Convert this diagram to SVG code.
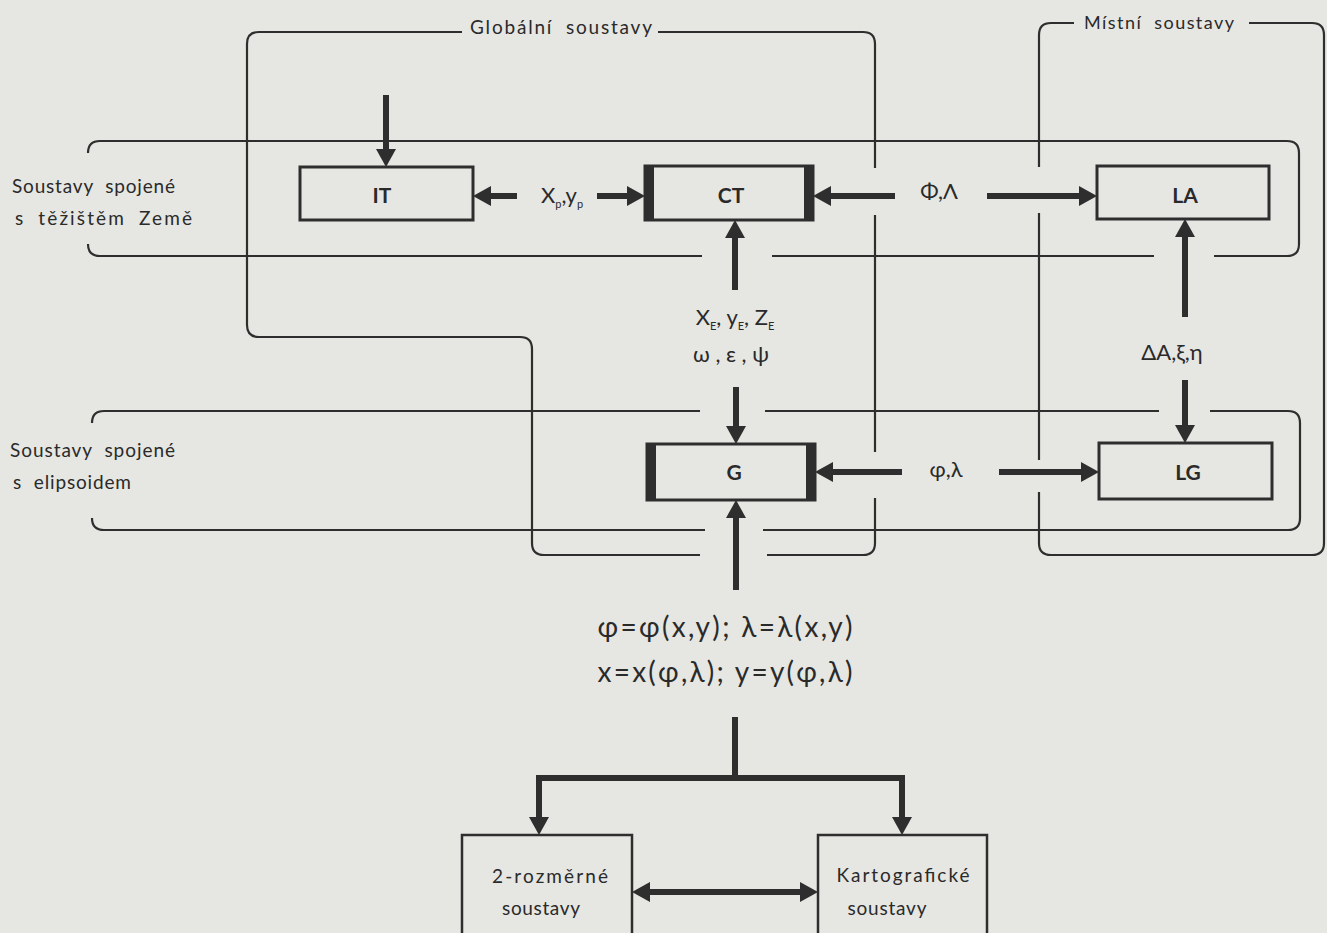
<svg xmlns="http://www.w3.org/2000/svg" width="1327" height="933" viewBox="0 0 1327 933">
<style>
.bg{fill:#e6e6e2}
.frame{fill:none;stroke:#2e2e2e;stroke-width:2.2}
.box{fill:none;stroke:#2e2e2e;stroke-width:3}
.bar{fill:#2e2e2e}
.arr{fill:none;stroke:#2e2e2e;stroke-width:6}
.t{font-family:Lato,"Open Sans","DejaVu Sans",sans-serif;fill:#2a2a2a}
.lbl{font-size:19px;word-spacing:6px}
.nd{font-size:21px;font-weight:bold;text-anchor:middle}
.mid{text-anchor:middle}
.math{font-size:22px}
.frm{font-size:28px}
.sm{font-size:19px}
</style>
<defs>
<marker id="ah" viewBox="0 0 18 20" refX="2" refY="10" markerWidth="18" markerHeight="20" markerUnits="userSpaceOnUse" orient="auto-start-reverse">
<path d="M0,0 L18,10 L0,20 z" fill="#2e2e2e"/>
</marker>
</defs>
<rect class="bg" x="0" y="0" width="1327" height="933"/>

<g id="frames">
<g id="frame-globalni">
<path class="frame" d="M462,32 L259,32 Q247,32 247,44 L247,325 Q247,337 259,337 L520,337 Q532,337 532,349 L532,543 Q532,555 544,555 L700,555 M767,555 L863,555 Q875,555 875,543 L875,498 M875,452 L875,215 M875,168 L875,44 Q875,32 863,32 L658,32"/>
<text class="t lbl" x="470" y="34" textLength="182" lengthAdjust="spacing">Globální soustavy</text>
</g>
<g id="frame-mistni">
<path class="frame" d="M1074,23 L1051,23 Q1039,23 1039,35 L1039,167 M1039,213 L1039,460 M1039,492 L1039,543 Q1039,555 1051,555 L1312,555 Q1324,555 1324,543 L1324,35 Q1324,23 1312,23 L1249,23"/>
<text class="t lbl" x="1084" y="29" textLength="150" lengthAdjust="spacing" style="font-size:18px">Místní soustavy</text>
</g>
<g id="band-zeme">
<path class="frame" d="M88,153 Q88,141 100,141 L1287,141 Q1299,141 1299,153 L1299,244 Q1299,256 1287,256 L1214,256 M1154,256 L772,256 M702,256 L100,256 Q88,256 88,244"/>
<text class="t lbl" x="12" y="193" textLength="163" lengthAdjust="spacing">Soustavy spojené</text>
<text class="t lbl" x="15" y="225" textLength="177" lengthAdjust="spacing">s těžištěm Země</text>
</g>
<g id="band-elipsoid">
<path class="frame" d="M92,423 Q92,411 104,411 L700,411 M765,411 L1159,411 M1210,411 L1288,411 Q1300,411 1300,423 L1300,518 Q1300,530 1288,530 L763,530 M705,530 L104,530 Q92,530 92,518"/>
<text class="t lbl" x="10" y="457" textLength="165" lengthAdjust="spacing">Soustavy spojené</text>
<text class="t lbl" x="13" y="489" textLength="118" lengthAdjust="spacing">s elipsoidem</text>
</g>
</g>

<g id="node-IT">
<rect class="box" x="300" y="167" width="173" height="53"/>
<text class="t nd" x="382" y="203">IT</text>
</g>
<g id="node-CT">
<rect class="box" x="645" y="166" width="168" height="54"/>
<rect class="bar" x="644" y="165" width="10" height="56"/>
<rect class="bar" x="804" y="165" width="10" height="56"/>
<text class="t nd" x="731" y="203">CT</text>
</g>
<g id="node-LA">
<rect class="box" x="1097" y="166" width="172" height="53"/>
<text class="t nd" x="1185" y="203">LA</text>
</g>
<g id="node-G">
<rect class="box" x="647" y="444" width="168" height="56"/>
<rect class="bar" x="646" y="443" width="10" height="58"/>
<rect class="bar" x="806" y="443" width="10" height="58"/>
<text class="t nd" x="734" y="480">G</text>
</g>
<g id="node-LG">
<rect class="box" x="1099" y="443" width="173" height="56"/>
<text class="t nd" x="1188" y="480">LG</text>
</g>
<g id="node-2D">
<rect class="box" x="462" y="835" width="170" height="120" style="stroke-width:2.5"/>
<text class="t sm mid" x="550" y="883" textLength="116" lengthAdjust="spacing">2-rozměrné</text>
<text class="t sm mid" x="541" y="915" textLength="78" lengthAdjust="spacing">soustavy</text>
</g>
<g id="node-kart">
<rect class="box" x="818" y="835" width="169" height="120" style="stroke-width:2.5"/>
<text class="t sm mid" x="903" y="882" textLength="133" lengthAdjust="spacing">Kartografické</text>
<text class="t sm mid" x="887" y="915" textLength="79" lengthAdjust="spacing">soustavy</text>
</g>

<g id="connectors">
<line class="arr" x1="386" y1="95" x2="386" y2="151" marker-end="url(#ah)"/>
<line class="arr" x1="517" y1="196" x2="489" y2="196" marker-end="url(#ah)"/>
<line class="arr" x1="597" y1="196" x2="629" y2="196" marker-end="url(#ah)"/>
<line class="arr" x1="895" y1="196" x2="829" y2="196" marker-end="url(#ah)"/>
<line class="arr" x1="987" y1="196" x2="1081" y2="196" marker-end="url(#ah)"/>
<line class="arr" x1="735" y1="290" x2="735" y2="236" marker-end="url(#ah)"/>
<line class="arr" x1="736" y1="387" x2="736" y2="428" marker-end="url(#ah)"/>
<line class="arr" x1="902" y1="472" x2="831" y2="472" marker-end="url(#ah)"/>
<line class="arr" x1="999" y1="472" x2="1083" y2="472" marker-end="url(#ah)"/>
<line class="arr" x1="1185" y1="317" x2="1185" y2="235" marker-end="url(#ah)"/>
<line class="arr" x1="1185" y1="380" x2="1185" y2="427" marker-end="url(#ah)"/>
<line class="arr" x1="736" y1="590" x2="736" y2="516" marker-end="url(#ah)"/>
<path class="arr" d="M735,717 L735,778 M539,778 L902,778"/>
<line class="arr" x1="539" y1="775" x2="539" y2="819" marker-end="url(#ah)"/>
<line class="arr" x1="902" y1="775" x2="902" y2="819" marker-end="url(#ah)"/>
<line class="arr" x1="648" y1="892" x2="802" y2="892" marker-start="url(#ah)" marker-end="url(#ah)"/>

<text class="t math mid" x="562" y="203">X<tspan font-size="11" dy="5">p</tspan><tspan dy="-5">,y</tspan><tspan font-size="11" dy="5">p</tspan></text>
<text class="t math mid" x="939" y="199">Φ,Λ</text>
<text class="t math mid" x="735" y="325">X<tspan font-size="11" dy="5">E</tspan><tspan dy="-5">, y</tspan><tspan font-size="11" dy="5">E</tspan><tspan dy="-5">, Z</tspan><tspan font-size="11" dy="5">E</tspan></text>
<text class="t math mid" x="731" y="362">ω , ε , ψ</text>
<text class="t math mid" x="946" y="477">φ,λ</text>
<text class="t math mid" x="1172" y="360">ΔA,ξ,η</text>
<text class="t frm mid" x="725" y="637" textLength="255" lengthAdjust="spacing">φ=φ(x,y); λ=λ(x,y)</text>
<text class="t frm mid" x="725" y="682" textLength="255" lengthAdjust="spacing">x=x(φ,λ); y=y(φ,λ)</text>
</g>
</svg>
